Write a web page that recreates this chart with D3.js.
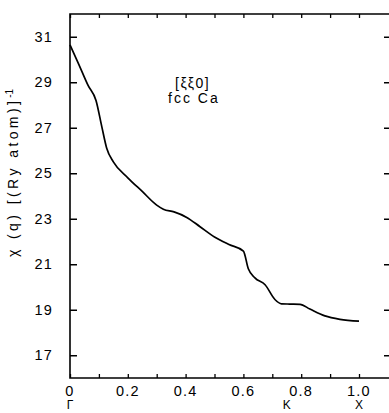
<!DOCTYPE html>
<html>
<head>
<meta charset="utf-8">
<script src="https://cdn.jsdelivr.net/npm/d3@7"></script>
<style>
  html, body { margin: 0; padding: 0; background: #fff; }
  svg { display: block; }
</style>
</head>
<body>
<div id="chart"></div>
<script>
// --- DATA ---
const qValues = [0, 0.03, 0.063, 0.09, 0.11, 0.127, 0.15, 0.2, 0.25, 0.3, 0.323, 0.36, 0.404, 0.45, 0.5,
  0.55, 0.6, 0.617, 0.64, 0.675, 0.709, 0.732, 0.76, 0.796, 0.83, 0.882, 0.934, 1.0];
const chiValues = [30.64, 29.8, 28.85, 28.2, 27.05, 26.1, 25.5, 24.8, 24.2, 23.6, 23.42, 23.3, 23.06, 22.65, 22.2,
  21.87, 21.58, 20.8, 20.4, 20.1, 19.45, 19.26, 19.25, 19.24, 19.03, 18.73, 18.58, 18.5];
const yTickValues = [17, 19, 21, 23, 25, 27, 29, 31];
const xLabelValues = [0, 0.2, 0.4, 0.6, 0.8, 1.0];
const xMinorTicks = [0, 0.1, 0.2, 0.3, 0.4, 0.5, 0.6, 0.7, 0.8, 0.9, 1.0];
const symmetryPoints = [{ q: 0, label: "Γ" }, { q: 0.75, label: "K" }, { q: 1.0, label: "X" }];

// --- LAYOUT ---
const WIDTH = 389;
const HEIGHT = 413;
const LEFT = 70, RIGHT = 389, TOP = 14, BOTTOM = 378;
const FONT = "'Liberation Sans', Arial, sans-serif";

const x = d3.scaleLinear().domain([0, 1.1]).range([LEFT, LEFT + 1.1 * 289]);
const y = d3.scaleLinear().domain([16, 32]).range([BOTTOM, TOP]);

const svg = d3.select("#chart").append("svg")
  .attr("width", WIDTH).attr("height", HEIGHT)
  .style("font-family", FONT);

// frame lines (left, top, bottom)
svg.append("path")
  .attr("d", `M${RIGHT + 2},${TOP}H${LEFT}V${BOTTOM}H${RIGHT + 2}`)
  .attr("fill", "none").attr("stroke", "#000").attr("stroke-width", 1.6);

// left axis ticks (inward)
const leftAxis = d3.axisRight(y).tickValues(yTickValues).tickSize(7).tickFormat("");
svg.append("g").attr("transform", `translate(${LEFT},0)`).call(leftAxis)
  .call(g => g.select(".domain").remove())
  .selectAll("line").attr("stroke-width", 1.5);

// left tick labels
svg.append("g").selectAll("text").data(yTickValues).join("text")
  .attr("x", 53).attr("y", d => y(d) + 5)
  .attr("text-anchor", "end")
  .style("font-size", "14.5px").style("letter-spacing", "1.2px")
  .text(d => d);

// right axis ticks (inward, axis line falls off the edge)
const rightAxis = d3.axisLeft(y).tickValues(yTickValues).tickSize(5).tickFormat("");
svg.append("g").attr("transform", `translate(${RIGHT},0)`).call(rightAxis)
  .call(g => g.select(".domain").remove())
  .selectAll("line").attr("stroke-width", 1.5);

// top ticks (inward)
const topAxis = d3.axisBottom(x).tickValues(xMinorTicks).tickSize(4).tickFormat("");
svg.append("g").attr("transform", `translate(0,${TOP})`).call(topAxis)
  .call(g => g.select(".domain").remove())
  .selectAll("line").attr("stroke-width", 1.3);

// bottom ticks (inward)
const bottomAxis = d3.axisTop(x).tickValues(xMinorTicks).tickSize(4).tickFormat("");
svg.append("g").attr("transform", `translate(0,${BOTTOM})`).call(bottomAxis)
  .call(g => g.select(".domain").remove())
  .selectAll("line").attr("stroke-width", 1.3);

// bottom tick labels
svg.append("g").selectAll("text").data(xLabelValues).join("text")
  .attr("x", d => x(d)).attr("y", 396)
  .attr("text-anchor", "middle")
  .style("font-size", "14.5px").style("letter-spacing", "1.2px")
  .text(d => d === 0 ? "0" : d.toFixed(1));

// symmetry point labels
svg.append("g").selectAll("text").data(symmetryPoints).join("text")
  .attr("x", d => x(d.q)).attr("y", 409)
  .attr("text-anchor", "middle")
  .style("font-size", "12px")
  .text(d => d.label);

// y axis title
const yTitle = svg.append("text")
  .attr("transform", `translate(18,257) rotate(-90)`)
  .attr("text-anchor", "start")
  .style("font-size", "14px").style("letter-spacing", "3.4px");
yTitle.append("tspan").text("χ (q) [(Ry atom)]");
yTitle.append("tspan").attr("dy", -5).style("font-size", "10px").style("letter-spacing", "0px").text("-1");

// annotation
svg.append("text").attr("x", 175).attr("y", 88)
  .style("font-size", "14px").style("letter-spacing", "1.5px").text("[ξξ0]");
svg.append("text").attr("x", 168).attr("y", 103)
  .style("font-size", "14px").style("letter-spacing", "2px").text("fcc  Ca");

// curve
const points = qValues.map((q, i) => [q, chiValues[i]]);
const line = d3.line()
  .x(d => x(d[0]))
  .y(d => y(d[1]))
  .curve(d3.curveMonotoneX);

svg.append("path")
  .datum(points)
  .attr("d", line)
  .attr("fill", "none")
  .attr("stroke", "#000")
  .attr("stroke-width", 1.7);
</script>
</body>
</html>
